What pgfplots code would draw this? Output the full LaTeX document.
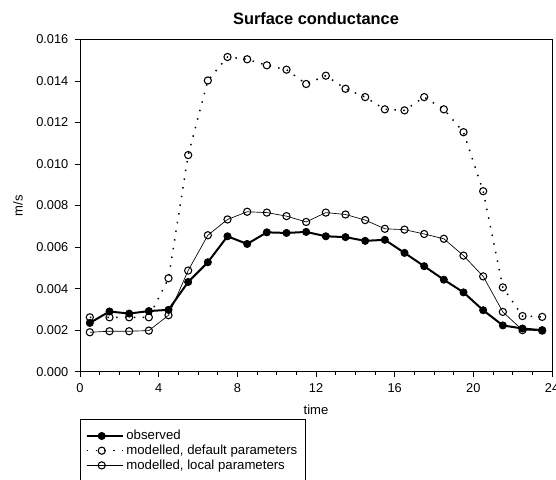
\documentclass[border=0pt]{standalone}
\usepackage{pgfplots}
\pgfplotsset{compat=1.18}
\usepackage{fontspec}
\setmainfont{Liberation Sans}
\begin{document}
\begin{tikzpicture}
\begin{axis}[
  at={(0,0)}, anchor=south west,
  scale only axis,
  width=354pt, height=249.3pt,
  xmin=0, xmax=24, ymin=0, ymax=0.016,
  xtick={0,4,...,24}, minor x tick num=3,
  ytick={0,0.002,...,0.016},
  scaled y ticks=false,
  yticklabel style={xshift=-1.5pt, /pgf/number format/.cd, fixed, fixed zerofill, precision=3},
  /pgf/number format/assume math mode=true,
  tick align=outside, xtick pos=bottom, ytick pos=left,
  major tick length=3.75pt, minor tick length=2.3pt,
  tick style={black, line width=0.5pt},
  axis line style={line width=0.6pt},
  ticklabel style={font=\fontsize{9.6}{11}\selectfont},
  xticklabel style={yshift=-1.5pt},
  xlabel={time}, ylabel={m/s},
  label style={font=\fontsize{9.8}{11}\selectfont},
  xlabel style={at={(axis description cs:0.5,-0.1152)}, anchor=center},
  ylabel style={at={(axis description cs:-0.1314,0.5)}, anchor=center},
  legend style={at={(axis description cs:0,-0.1416)}, anchor=north west,
    font=\fontsize{9.9}{11}\selectfont, draw=black, line width=0.6pt,
    row sep=-1.65pt, inner xsep=4pt, inner ysep=6.25pt, cells={anchor=west}},
  legend cell align=left,
  legend image code/.code={\path (0pt,0pt) -- (27pt,0pt); \draw[#1] (0pt,0pt) -- (22.5pt,0pt); \draw[#1, mark repeat=2, mark phase=2] plot coordinates {(0pt,0pt) (11.25pt,0pt) (22.5pt,0pt)};},
  clip=false,
]
\addplot[black, line width=1.5pt, mark=*, mark size=2.7pt, mark options={fill=black, line width=0.6pt}] coordinates {
(0.5,0.00235) (1.5,0.00290) (2.5,0.00280) (3.5,0.00292) (4.5,0.00298)
(5.5,0.00432) (6.5,0.00527) (7.5,0.00652) (8.5,0.00615) (9.5,0.00671)
(10.5,0.00668) (11.5,0.00673) (12.5,0.00652) (13.5,0.00648) (14.5,0.00630)
(15.5,0.00635) (16.5,0.00572) (17.5,0.00508) (18.5,0.00443) (19.5,0.00382)
(20.5,0.00296) (21.5,0.00223) (22.5,0.00208) (23.5,0.00200)};
\addlegendentry{observed}
\addplot[black, line width=1.1pt, dash pattern=on 1.1pt off 5.5pt, mark=o, mark size=2.7pt, mark options={solid, fill=white, line width=0.8pt}] coordinates {
(0.5,0.00262) (1.5,0.00262) (2.5,0.00262) (3.5,0.00262) (4.5,0.00450)
(5.5,0.01043) (6.5,0.01402) (7.5,0.01515) (8.5,0.01504) (9.5,0.01475)
(10.5,0.01454) (11.5,0.01385) (12.5,0.01425) (13.5,0.01362) (14.5,0.01322)
(15.5,0.01263) (16.5,0.01258) (17.5,0.01322) (18.5,0.01263) (19.5,0.01153)
(20.5,0.00869) (21.5,0.00406) (22.5,0.00268) (23.5,0.00264)};
\addlegendentry{modelled, default parameters}
\addplot[black, line width=0.5pt, mark=o, mark size=2.7pt, mark options={fill=white, line width=0.8pt}] coordinates {
(0.5,0.00190) (1.5,0.00195) (2.5,0.00195) (3.5,0.00198) (4.5,0.00272)
(5.5,0.00487) (6.5,0.00657) (7.5,0.00733) (8.5,0.00770) (9.5,0.00766)
(10.5,0.00749) (11.5,0.00721) (12.5,0.00766) (13.5,0.00757) (14.5,0.00730)
(15.5,0.00688) (16.5,0.00684) (17.5,0.00663) (18.5,0.00640) (19.5,0.00559)
(20.5,0.00459) (21.5,0.00288) (22.5,0.00200) (23.5,0.00198)};
\addlegendentry{modelled, local parameters}
\end{axis}
\node[anchor=base, inner sep=0pt, font=\fontsize{12.3}{14}\selectfont\bfseries] at (177pt,260.6pt) {Surface conductance};
\pgfresetboundingbox
\path[use as bounding box] (-60pt,-80.5pt) rectangle (357pt,278.8pt);
\end{tikzpicture}
\end{document}
